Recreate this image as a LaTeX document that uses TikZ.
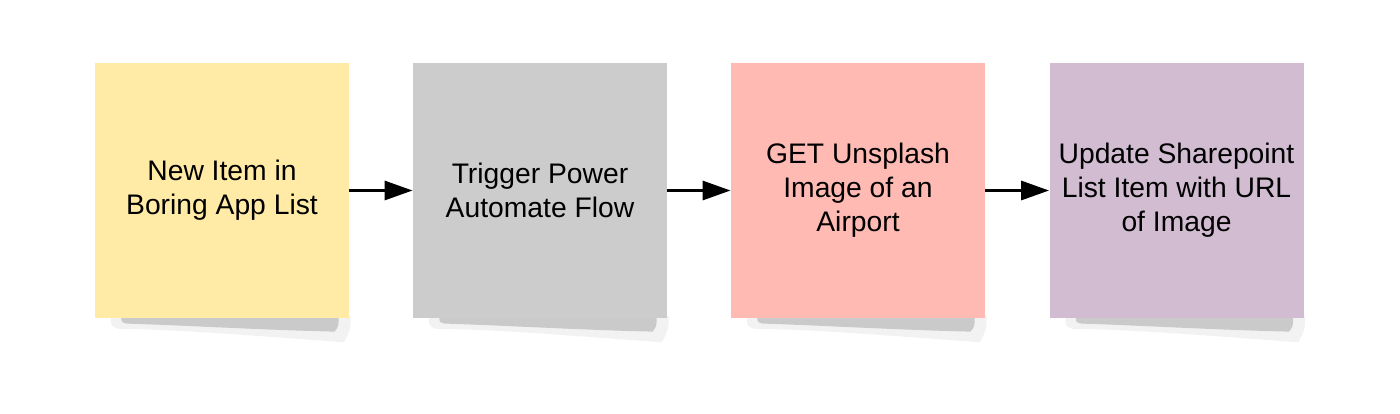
\documentclass[tikz,border=0pt]{standalone}
\usepackage{fontspec}
\setmainfont{Liberation Sans}
\usetikzlibrary{arrows.meta}
\definecolor{cyellow}{HTML}{FFEBA6}
\definecolor{cgrey}{HTML}{CCCCCC}
\definecolor{cpink}{HTML}{FFBAB3}
\definecolor{cpurple}{HTML}{D1BCD2}
\definecolor{shadowc}{HTML}{CACACA}
\tikzset{
  note/.style={minimum width=190.5pt, minimum height=191.25pt, inner sep=0pt,
    align=center, font=\fontsize{21.2}{25.6}\selectfont, text=black},
  flowarrow/.style={line width=2.8pt, -{Triangle[length=21pt,width=14pt]}, black},
  softshadow/.style={fill=shadowc, draw=none},
  haloshadow/.style={fill=black, fill opacity=0.05, draw=none}
}
\newcommand{\paperShadow}[1]{%
  \fill[haloshadow] ([xshift=12pt,yshift=2pt]#1.south west) -- ([xshift=1pt,yshift=2pt]#1.south east)
     .. controls ([xshift=1pt,yshift=-8pt]#1.south east) .. ([xshift=-4pt,yshift=-18pt]#1.south east)
     .. controls ([xshift=-60pt,yshift=-14pt]#1.south east) and ([xshift=60pt,yshift=-8pt]#1.south west) ..
     ([xshift=18pt,yshift=-8pt]#1.south west)
     .. controls ([xshift=12pt,yshift=-6pt]#1.south west) .. cycle;
  \fill[softshadow] ([xshift=20pt,yshift=1pt]#1.south west) -- ([xshift=-8pt,yshift=1pt]#1.south east)
     .. controls ([xshift=-8pt,yshift=-6pt]#1.south east) .. ([xshift=-11pt,yshift=-10pt]#1.south east)
     .. controls ([xshift=-60pt,yshift=-9pt]#1.south east) and ([xshift=60pt,yshift=-5pt]#1.south west) ..
     ([xshift=24pt,yshift=-4pt]#1.south west)
     .. controls ([xshift=20pt,yshift=-3pt]#1.south west) .. cycle;
}
\begin{document}
\begin{tikzpicture}[x=0.75pt,y=-0.75pt]
\useasboundingbox (0,0) rectangle (1400,414);
\path (222,190.5) node[note] (n1) {};
\path (540,190.5) node[note] (n2) {};
\path (858,190.5) node[note] (n3) {};
\path (1176.5,190.5) node[note] (n4) {};
\paperShadow{n1}
\paperShadow{n2}
\paperShadow{n3}
\paperShadow{n4}
\node[note, fill=cyellow] (a) at (222,190.5) {New Item in\\Boring App List};
\node[note, fill=cgrey] (b) at (540,190.5) {Trigger Power\\Automate Flow};
\node[note, fill=cpink] (c) at (858,190.5) {GET Unsplash\\Image of an\\Airport};
\node[note, fill=cpurple] (d) at (1176.5,190.5) {Update Sharepoint\\List Item with URL\\of Image};
\draw[flowarrow] (a) -- (b);
\draw[flowarrow] (b) -- (c);
\draw[flowarrow] (c) -- (d);
\end{tikzpicture}
\end{document}
